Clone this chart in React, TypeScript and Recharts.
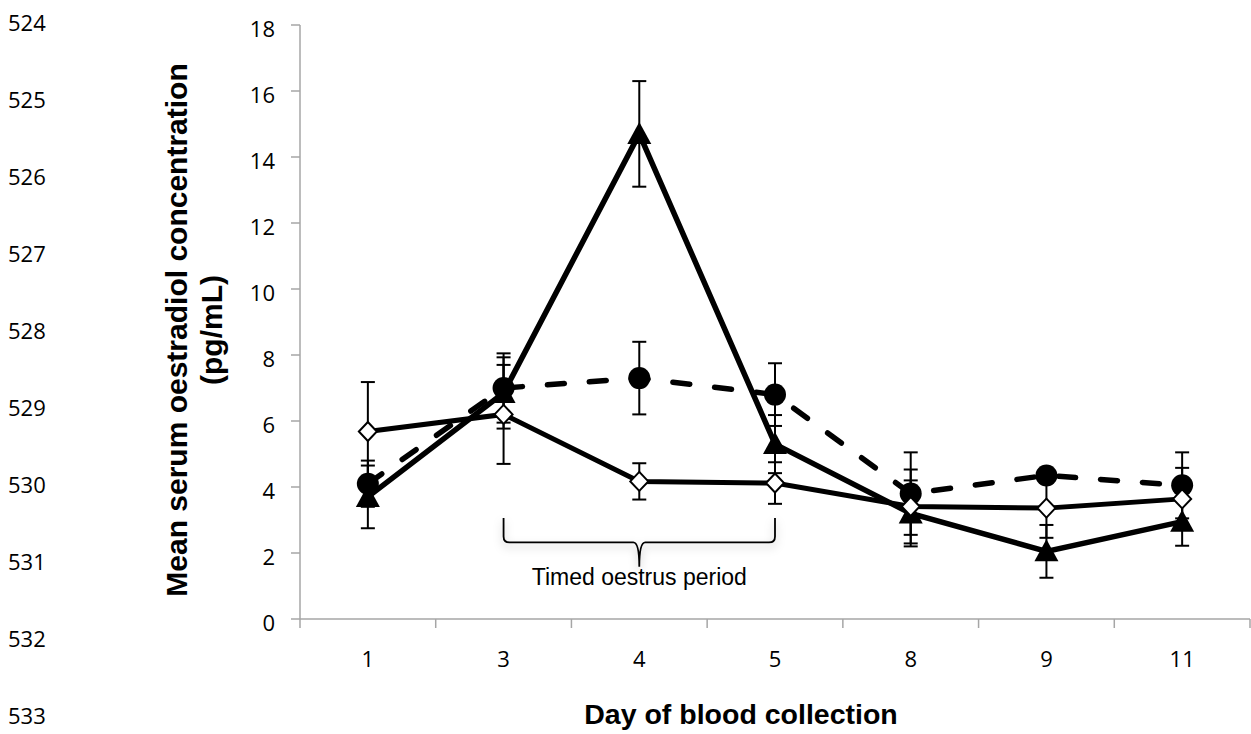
import React from 'react';
import { LineChart, Line, XAxis, YAxis, ErrorBar, ReferenceArea } from 'recharts';

// day of blood collection (categories)
const days = ['1', '3', '4', '5', '8', '9', '11'];

// filled circles, dashed line
const circleMean = [4.1, 7.0, 7.3, 6.8, 3.8, 4.35, 4.05];
const circleErr = [0.7, 1.05, 1.1, 0.95, 1.25, 0.15, 1.0];

// filled triangles, solid line
const triMean = [3.7, 6.85, 14.7, 5.3, 3.2, 2.05, 2.95];
const triErr = [0.95, 1.08, 1.6, 0.88, 1.0, 0.8, 0.73];

// open diamonds, solid line
const diaMean = [5.68, 6.2, 4.17, 4.12, 3.41, 3.36, 3.64];
const diaErr = [1.5, 1.5, 0.55, 0.63, 1.12, 0.9, 0.94];

const yTicks = [0, 2, 4, 6, 8, 10, 12, 14, 16, 18];
const lineNumbers = ['524', '525', '526', '527', '528', '529', '530', '531', '532', '533'];

const data = days.map((day, i) => ({
  idx: i,
  day,
  circle: circleMean[i],
  circleErr: circleErr[i],
  tri: triMean[i],
  triErr: triErr[i],
  dia: diaMean[i],
  diaErr: diaErr[i],
}));

const W = 1251;
const H = 734;
const MARGIN = { top: 25, right: 1, left: 240, bottom: 75 };
const Y_AXIS_W = 60;
const X_AXIS_H = 40;
const PLOT_W = W - MARGIN.left - Y_AXIS_W - MARGIN.right;
const HALF_BAND = PLOT_W / (days.length * 2);

const AXIS = '#a6a6a6';
const NUM_FONT = '"Open Sans", sans-serif';
const LABEL_FONT = '"Liberation Sans", Arial, sans-serif';

const XTick = (props: any) => {
  const { x, y, payload, index } = props;
  return (
    <g>
      <line x1={x - HALF_BAND} x2={x - HALF_BAND} y1={y} y2={y + 9} stroke={AXIS} strokeWidth={1.5} />
      {index === days.length - 1 && (
        <line x1={x + HALF_BAND} x2={x + HALF_BAND} y1={y} y2={y + 9} stroke={AXIS} strokeWidth={1.5} />
      )}
      <text x={x} y={y + 39} textAnchor="middle" dominantBaseline="central" fontFamily={NUM_FONT} fontSize={22} fill="#000">
        {days[payload.value]}
      </text>
    </g>
  );
};

const YTick = (props: any) => {
  const { x, y, payload } = props;
  return (
    <text x={x} y={y + 3} textAnchor="end" dominantBaseline="central" fontFamily={NUM_FONT} fontSize={22} fill="#000">
      {payload.value}
    </text>
  );
};

const CircleDot = (props: any) => {
  const { cx, cy, index } = props;
  return <circle key={`c${index}`} cx={cx} cy={cy} r={11} fill="#000" />;
};

const TriDot = (props: any) => {
  const { cx, cy, index } = props;
  return (
    <path key={`t${index}`} d={`M${cx},${cy - 12} L${cx + 12},${cy + 10} L${cx - 12},${cy + 10} Z`} fill="#000" />
  );
};

const DiaDot = (props: any) => {
  const { cx, cy, index } = props;
  return (
    <path
      key={`d${index}`}
      d={`M${cx},${cy - 9.5} L${cx + 9},${cy} L${cx},${cy + 9.5} L${cx - 9},${cy} Z`}
      fill="#fff"
      stroke="#000"
      strokeWidth={2}
    />
  );
};

// curly brace marking the timed oestrus period
const Brace = (props: any) => {
  const { x, y, width, height } = props;
  const mid = x + width / 2;
  const hy = y + height * 0.5;
  const bottom = y + height;
  const r = 6;
  const d = [
    `M${x},${y}`,
    `L${x},${hy - r}`,
    `Q${x},${hy} ${x + r},${hy}`,
    `L${mid - r},${hy}`,
    `Q${mid},${hy} ${mid},${bottom}`,
    `Q${mid},${hy} ${mid + r},${hy}`,
    `L${x + width - r},${hy}`,
    `Q${x + width},${hy} ${x + width},${hy - r}`,
    `L${x + width},${y}`,
  ].join(' ');
  return (
    <g>
      <defs>
        <filter id="braceShadow" x="-10%" y="-50%" width="120%" height="200%">
          <feDropShadow dx="0" dy="4" stdDeviation="4" floodColor="#000" floodOpacity="0.25" />
        </filter>
      </defs>
      <path d={d} fill="none" stroke="#000" strokeWidth={1.8} filter="url(#braceShadow)" />
      <text x={mid} y={bottom + 18} textAnchor="middle" fontFamily={LABEL_FONT} fontSize={23} fill="#000">
        Timed oestrus period
      </text>
    </g>
  );
};

export default function App() {
  return (
    <div style={{ position: 'fixed', left: 0, top: 0, width: W, height: H, background: '#fff' }}>
      <LineChart width={W} height={H} data={data} margin={MARGIN}>
        <XAxis
          type="number"
          dataKey="idx"
          domain={[-0.5, days.length - 0.5]}
          ticks={days.map((_, i) => i)}
          height={X_AXIS_H}
          tickLine={false}
          tickSize={0}
          tickMargin={0}
          axisLine={{ stroke: AXIS, strokeWidth: 1.5 }}
          tick={<XTick />}
        />
        <YAxis
          domain={[0, 18]}
          ticks={yTicks}
          width={Y_AXIS_W}
          tickSize={9}
          tickMargin={16}
          axisLine={{ stroke: AXIS, strokeWidth: 1.5 }}
          tickLine={{ stroke: AXIS, strokeWidth: 1.5 }}
          tick={<YTick />}
        />
        <ReferenceArea x1={1} x2={3} y1={1.58} y2={3.06} shape={(p: any) => <Brace {...p} />} />
        <Line
          dataKey="circle"
          stroke="#000"
          strokeWidth={5.5}
          strokeDasharray="17 25"
          strokeLinecap="round"
          dot={CircleDot}
          activeDot={false}
          isAnimationActive={false}
        >
          <ErrorBar dataKey="circleErr" width={7} strokeWidth={2} stroke="#000" direction="y" />
        </Line>
        <Line
          dataKey="tri"
          stroke="#000"
          strokeWidth={5.5}
          dot={TriDot}
          activeDot={false}
          isAnimationActive={false}
        >
          <ErrorBar dataKey="triErr" width={7} strokeWidth={2} stroke="#000" direction="y" />
        </Line>
        <Line
          dataKey="dia"
          stroke="#000"
          strokeWidth={5}
          dot={DiaDot}
          activeDot={false}
          isAnimationActive={false}
        >
          <ErrorBar dataKey="diaErr" width={7} strokeWidth={2} stroke="#000" direction="y" />
        </Line>
      </LineChart>
      <svg width={W} height={H} style={{ position: 'absolute', left: 0, top: 0, pointerEvents: 'none' }}>
        {lineNumbers.map((n, i) => (
          <text
            key={n}
            x={8}
            y={31 + i * 77}
            fontFamily={NUM_FONT}
            fontSize={22}
            fill="#000"
          >
            {n}
          </text>
        ))}
        <g transform="translate(176, 330) rotate(-90)">
          <text x={0} y={0} textAnchor="middle" dominantBaseline="central" fontFamily={LABEL_FONT} fontWeight="bold" fontSize={30} fill="#000">
            Mean serum oestradiol concentration
          </text>
        </g>
        <g transform="translate(211, 330) rotate(-90)">
          <text x={0} y={0} textAnchor="middle" dominantBaseline="central" fontFamily={LABEL_FONT} fontWeight="bold" fontSize={30} fill="#000">
            (pg/mL)
          </text>
        </g>
        <text x={741} y={724} textAnchor="middle" fontFamily={LABEL_FONT} fontWeight="bold" fontSize={28.5} fill="#000">
          Day of blood collection
        </text>
      </svg>
    </div>
  );
}
